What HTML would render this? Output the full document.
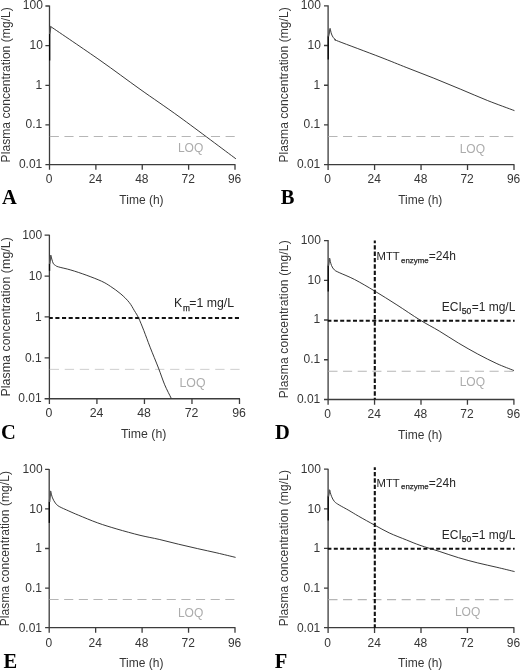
<!DOCTYPE html>
<html><head><meta charset="utf-8"><title>Plasma concentration-time profiles</title>
<style>
html,body{margin:0;padding:0;background:#fff;}
svg{display:block;}
text{font-family:"Liberation Sans",Arial,sans-serif;fill:#363636;}
text.ltr{font-family:"Liberation Serif","Times New Roman",serif;font-weight:bold;font-size:20.5px;fill:#000;}
text.loq{fill:#acacac;}
text.blk{fill:#262626;}
.sub{stroke:#262626;stroke-width:0.25px;}
</style></head><body>
<svg width="520" height="670" viewBox="0 0 520 670">
<rect width="520" height="670" fill="#fff"/>
<g style="font-size:12.00px">
<path d="M49.50 5.50V169.80M45.40 164.60H235.50M45.40 6.00H49.50M45.40 45.65H49.50M45.40 85.30H49.50M45.40 124.95H49.50M95.88 164.60V169.80M142.25 164.60V169.80M188.62 164.60V169.80M235.00 164.60V169.80" stroke="#3c3c3c" stroke-width="1.3" fill="none"/>
<text x="42.90" y="9.40" text-anchor="end">100</text>
<text x="42.90" y="49.05" text-anchor="end">10</text>
<text x="42.30" y="88.70" text-anchor="end">1</text>
<text x="42.30" y="128.35" text-anchor="end">0.1</text>
<text x="42.30" y="168.00" text-anchor="end">0.01</text>
<text x="49.10" y="182.90" text-anchor="middle">0</text>
<text x="95.47" y="182.90" text-anchor="middle">24</text>
<text x="141.85" y="182.90" text-anchor="middle">48</text>
<text x="188.22" y="182.90" text-anchor="middle">72</text>
<text x="234.60" y="182.90" text-anchor="middle">96</text>
<text transform="translate(9.60 162.40) rotate(-90)" textLength="155.2" lengthAdjust="spacing">Plasma concentration (mg/L)</text>
<text x="141.45" y="203.60" text-anchor="middle">Time (h)</text>
<text x="2.00" y="203.80" class="ltr">A</text>
<path d="M49.80 136.49H235.40" stroke="#b6b6b6" stroke-width="1.05" stroke-dasharray="9.1 5.55" fill="none"/>
<text x="177.90" y="151.90" class="loq">LOQ</text>
<path d="M50.60 26.50C58.83 32.13 85.10 49.85 100.00 60.30C114.90 70.75 126.67 79.70 140.00 89.20C153.33 98.70 164.07 105.73 180.00 117.30C195.93 128.87 226.33 151.72 235.60 158.60" stroke="#222" stroke-width="0.9" fill="none" stroke-linejoin="round" stroke-linecap="round"/>
<path d="M49.65 60.50V34.00" stroke="#0a0a0a" stroke-width="1.35" fill="none"/>
<path d="M49.80 34.00L50.60 26.50" stroke="#555" stroke-width="1.6" fill="none"/>
</g>
<g style="font-size:12.00px">
<path d="M328.10 5.30V169.90M324.00 164.70H514.50M324.00 5.80H328.10M324.00 45.52H328.10M324.00 85.25H328.10M324.00 124.97H328.10M374.58 164.70V169.90M421.05 164.70V169.90M467.52 164.70V169.90M514.00 164.70V169.90" stroke="#3c3c3c" stroke-width="1.3" fill="none"/>
<text x="320.90" y="9.20" text-anchor="end">100</text>
<text x="320.90" y="48.92" text-anchor="end">10</text>
<text x="320.30" y="88.65" text-anchor="end">1</text>
<text x="320.30" y="128.37" text-anchor="end">0.1</text>
<text x="320.30" y="168.10" text-anchor="end">0.01</text>
<text x="327.70" y="183.00" text-anchor="middle">0</text>
<text x="374.18" y="183.00" text-anchor="middle">24</text>
<text x="420.65" y="183.00" text-anchor="middle">48</text>
<text x="467.12" y="183.00" text-anchor="middle">72</text>
<text x="513.60" y="183.00" text-anchor="middle">96</text>
<text transform="translate(287.60 162.50) rotate(-90)" textLength="155.2" lengthAdjust="spacing">Plasma concentration (mg/L)</text>
<text x="420.25" y="203.70" text-anchor="middle">Time (h)</text>
<text x="280.80" y="203.80" class="ltr">B</text>
<path d="M328.40 136.53H514.40" stroke="#b6b6b6" stroke-width="1.05" stroke-dasharray="9.1 5.55" fill="none"/>
<text x="459.70" y="153.00" class="loq">LOQ</text>
<path d="M330.15 28.60C330.38 29.50 330.98 32.52 331.50 34.00C332.02 35.48 332.62 36.53 333.30 37.50C333.98 38.47 334.73 39.17 335.60 39.80C336.47 40.43 331.10 38.43 338.50 41.30C345.90 44.17 368.60 52.60 380.00 57.00C391.40 61.40 397.92 64.17 406.90 67.70C415.88 71.23 424.87 74.60 433.85 78.20C442.83 81.80 451.83 85.57 460.80 89.30C469.77 93.03 478.82 97.07 487.70 100.60C496.58 104.13 509.70 108.85 514.10 110.50" stroke="#222" stroke-width="0.9" fill="none" stroke-linejoin="round" stroke-linecap="round"/>
<path d="M328.25 59.40V36.30" stroke="#0a0a0a" stroke-width="1.35" fill="none"/>
<path d="M328.40 36.30L330.15 28.60" stroke="#555" stroke-width="1.6" fill="none"/>
</g>
<g style="font-size:12.32px">
<path d="M49.40 234.65V403.95M44.60 398.75H240.00M44.60 235.15H49.40M44.60 276.05H49.40M44.60 316.95H49.40M44.60 357.85H49.40M96.92 398.75V403.95M144.45 398.75V403.95M191.97 398.75V403.95M239.50 398.75V403.95" stroke="#3c3c3c" stroke-width="1.3" fill="none"/>
<text x="42.20" y="238.85" text-anchor="end" style="font-size:12px">100</text>
<text x="42.20" y="279.75" text-anchor="end" style="font-size:12px">10</text>
<text x="41.60" y="320.65" text-anchor="end" style="font-size:12px">1</text>
<text x="41.60" y="361.55" text-anchor="end" style="font-size:12px">0.1</text>
<text x="41.60" y="402.45" text-anchor="end" style="font-size:12px">0.01</text>
<text x="49.00" y="417.05" text-anchor="middle">0</text>
<text x="96.52" y="417.05" text-anchor="middle">24</text>
<text x="144.05" y="417.05" text-anchor="middle">48</text>
<text x="191.57" y="417.05" text-anchor="middle">72</text>
<text x="239.10" y="417.05" text-anchor="middle">96</text>
<text transform="translate(9.50 396.55) rotate(-90)" textLength="159.4" lengthAdjust="spacing">Plasma concentration (mg/L)</text>
<text x="143.65" y="438.35" text-anchor="middle">Time (h)</text>
<text x="1.00" y="439.00" class="ltr">C</text>
<path d="M49.70 369.36H239.90" stroke="#c8c8c8" stroke-width="0.9" stroke-dasharray="9.3 5.75" fill="none"/>
<text x="179.50" y="386.60" class="loq">LOQ</text>
<path d="M49.10 317.95H240.20" stroke="#111" stroke-width="2" stroke-dasharray="4.1 2.55" stroke-dashoffset="0.4" fill="none"/>
<text class="blk"><tspan x="173.90" y="307.15" style="font-size:12.32px">K</tspan><tspan class="sub" x="182.90" y="311.05" style="font-size:8.3px">m</tspan><tspan x="189.30" y="307.15" style="font-size:12.32px">=1 mg/L</tspan></text>
<path d="M50.80 255.40C51.18 256.68 52.33 261.43 53.10 263.10C53.87 264.77 54.50 264.77 55.40 265.40C56.30 266.03 55.93 266.13 58.50 266.90C61.07 267.67 66.19 268.63 70.80 270.00C75.41 271.37 81.03 273.23 86.15 275.10C91.27 276.97 97.46 279.33 101.50 281.20C105.54 283.07 107.17 284.17 110.40 286.30C113.63 288.43 117.77 291.32 120.90 294.00C124.03 296.68 126.95 299.62 129.20 302.40C131.45 305.18 132.83 308.10 134.40 310.70C135.97 313.30 137.03 314.70 138.60 318.00C140.17 321.30 141.88 325.63 143.80 330.50C145.72 335.37 147.65 340.93 150.10 347.20C152.55 353.47 156.07 361.83 158.50 368.10C160.93 374.37 162.62 379.85 164.70 384.80C166.78 389.75 169.95 395.63 171.00 397.80" stroke="#222" stroke-width="0.9" fill="none" stroke-linejoin="round" stroke-linecap="round"/>
<path d="M49.55 270.80V263.80" stroke="#0a0a0a" stroke-width="1.35" fill="none"/>
<path d="M49.70 263.80L50.80 255.40" stroke="#555" stroke-width="1.6" fill="none"/>
</g>
<g style="font-size:12.00px">
<path d="M328.10 240.05V404.70M324.00 399.50H514.40M324.00 240.55H328.10M324.00 280.29H328.10M324.00 320.02H328.10M324.00 359.76H328.10M374.55 399.50V404.70M421.00 399.50V404.70M467.45 399.50V404.70M513.90 399.50V404.70" stroke="#3c3c3c" stroke-width="1.3" fill="none"/>
<text x="320.90" y="243.95" text-anchor="end">100</text>
<text x="320.90" y="283.69" text-anchor="end">10</text>
<text x="320.30" y="323.42" text-anchor="end">1</text>
<text x="320.30" y="363.16" text-anchor="end">0.1</text>
<text x="320.30" y="402.90" text-anchor="end">0.01</text>
<text x="327.70" y="417.80" text-anchor="middle">0</text>
<text x="374.15" y="417.80" text-anchor="middle">24</text>
<text x="420.60" y="417.80" text-anchor="middle">48</text>
<text x="467.05" y="417.80" text-anchor="middle">72</text>
<text x="513.50" y="417.80" text-anchor="middle">96</text>
<text transform="translate(287.60 398.30) rotate(-90)" textLength="158.0" lengthAdjust="spacing">Plasma concentration (mg/L)</text>
<text x="420.20" y="438.50" text-anchor="middle">Time (h)</text>
<text x="275.00" y="439.00" class="ltr">D</text>
<path d="M328.40 371.32H514.30" stroke="#b6b6b6" stroke-width="1.05" stroke-dasharray="9.1 5.55" fill="none"/>
<text x="459.70" y="385.60" class="loq">LOQ</text>
<path d="M327.80 320.72H514.60" stroke="#111" stroke-width="2" stroke-dasharray="4 2.4" stroke-dashoffset="0.4" fill="none"/>
<text class="blk"><tspan x="441.80" y="310.52" style="font-size:12px">ECI</tspan><tspan class="sub" x="461.70" y="314.32" style="font-size:8.6px">50</tspan><tspan x="471.70" y="310.52" style="font-size:12px">=1 mg/L</tspan></text>
<path d="M374.80 240.60V399.50" stroke="#111" stroke-width="2.1" stroke-dasharray="4.35 2" stroke-dashoffset="1.7" fill="none"/>
<text class="blk"><tspan x="376.55" y="260.30" style="font-size:11.3px">MTT</tspan><tspan class="sub" x="401.10" y="262.70" style="font-size:7.85px">enzyme</tspan><tspan x="428.80" y="260.30" style="font-size:12px">=24h</tspan></text>
<path d="M329.60 258.40C329.92 259.58 330.70 263.58 331.50 265.50C332.30 267.42 333.12 268.72 334.40 269.90C335.68 271.08 335.83 271.00 339.20 272.60C342.57 274.20 348.67 276.42 354.60 279.50C360.53 282.58 367.75 286.87 374.80 291.10C381.85 295.33 389.37 300.08 396.90 304.90C404.43 309.72 412.95 315.65 420.00 320.00C427.05 324.35 432.78 327.15 439.20 331.00C445.62 334.85 452.08 339.27 458.50 343.10C464.92 346.93 471.30 350.57 477.70 354.00C484.10 357.43 490.92 360.92 496.90 363.65C502.88 366.38 510.82 369.27 513.60 370.40" stroke="#222" stroke-width="0.9" fill="none" stroke-linejoin="round" stroke-linecap="round"/>
<path d="M328.25 291.50V265.50" stroke="#0a0a0a" stroke-width="1.35" fill="none"/>
<path d="M328.40 265.50L329.60 258.40" stroke="#555" stroke-width="1.6" fill="none"/>
</g>
<g style="font-size:12.00px">
<path d="M49.20 468.90V632.80M45.10 627.60H235.50M45.10 469.40H49.20M45.10 508.95H49.20M45.10 548.50H49.20M45.10 588.05H49.20M95.65 627.60V632.80M142.10 627.60V632.80M188.55 627.60V632.80M235.00 627.60V632.80" stroke="#3c3c3c" stroke-width="1.3" fill="none"/>
<text x="42.60" y="473.30" text-anchor="end">100</text>
<text x="42.60" y="512.85" text-anchor="end">10</text>
<text x="42.00" y="552.40" text-anchor="end">1</text>
<text x="42.00" y="591.95" text-anchor="end">0.1</text>
<text x="42.00" y="631.50" text-anchor="end">0.01</text>
<text x="48.80" y="646.80" text-anchor="middle">0</text>
<text x="95.25" y="646.80" text-anchor="middle">24</text>
<text x="141.70" y="646.80" text-anchor="middle">48</text>
<text x="188.15" y="646.80" text-anchor="middle">72</text>
<text x="234.60" y="646.80" text-anchor="middle">96</text>
<text transform="translate(9.30 626.20) rotate(-90)" textLength="155.2" lengthAdjust="spacing">Plasma concentration (mg/L)</text>
<text x="141.30" y="667.20" text-anchor="middle">Time (h)</text>
<text x="3.40" y="668.30" class="ltr">E</text>
<path d="M49.50 599.56H235.40" stroke="#b6b6b6" stroke-width="1.05" stroke-dasharray="9.1 5.55" fill="none"/>
<text x="177.90" y="616.55" class="loq">LOQ</text>
<path d="M50.60 491.20C50.92 492.32 51.70 495.92 52.50 497.90C53.30 499.88 54.28 501.67 55.40 503.10C56.52 504.53 56.96 505.18 59.20 506.50C61.44 507.82 65.63 509.55 68.85 511.00C72.07 512.45 73.69 513.22 78.50 515.20C83.31 517.18 91.30 520.60 97.70 522.90C104.10 525.20 109.85 526.93 116.90 529.00C123.95 531.07 132.95 533.57 140.00 535.30C147.05 537.03 152.78 537.92 159.20 539.40C165.62 540.88 172.08 542.66 178.50 544.20C184.92 545.74 191.30 547.20 197.70 548.65C204.10 550.10 210.65 551.46 216.90 552.90C223.15 554.34 232.15 556.57 235.20 557.30" stroke="#222" stroke-width="0.9" fill="none" stroke-linejoin="round" stroke-linecap="round"/>
<path d="M49.35 522.90V502.00" stroke="#0a0a0a" stroke-width="1.35" fill="none"/>
<path d="M49.50 502.00L50.60 491.20" stroke="#555" stroke-width="1.6" fill="none"/>
</g>
<g style="font-size:12.00px">
<path d="M328.10 468.70V632.90M324.00 627.70H514.40M324.00 469.20H328.10M324.00 508.82H328.10M324.00 548.45H328.10M324.00 588.08H328.10M374.55 627.70V632.90M421.00 627.70V632.90M467.45 627.70V632.90M513.90 627.70V632.90" stroke="#3c3c3c" stroke-width="1.3" fill="none"/>
<text x="320.90" y="473.10" text-anchor="end">100</text>
<text x="320.90" y="512.73" text-anchor="end">10</text>
<text x="320.30" y="552.35" text-anchor="end">1</text>
<text x="320.30" y="591.98" text-anchor="end">0.1</text>
<text x="320.30" y="631.60" text-anchor="end">0.01</text>
<text x="327.70" y="646.60" text-anchor="middle">0</text>
<text x="374.15" y="646.60" text-anchor="middle">24</text>
<text x="420.60" y="646.60" text-anchor="middle">48</text>
<text x="467.05" y="646.60" text-anchor="middle">72</text>
<text x="513.50" y="646.60" text-anchor="middle">96</text>
<text transform="translate(287.60 626.30) rotate(-90)" textLength="156.3" lengthAdjust="spacing">Plasma concentration (mg/L)</text>
<text x="420.20" y="667.20" text-anchor="middle">Time (h)</text>
<text x="274.70" y="668.20" class="ltr">F</text>
<path d="M328.40 599.60H514.30" stroke="#b6b6b6" stroke-width="1.05" stroke-dasharray="9.1 5.55" fill="none"/>
<text x="454.90" y="616.20" class="loq">LOQ</text>
<path d="M327.80 548.75H514.60" stroke="#111" stroke-width="2" stroke-dasharray="4 2.4" stroke-dashoffset="0.4" fill="none"/>
<text class="blk"><tspan x="441.80" y="538.55" style="font-size:12px">ECI</tspan><tspan class="sub" x="461.70" y="542.35" style="font-size:8.6px">50</tspan><tspan x="471.70" y="538.55" style="font-size:12px">=1 mg/L</tspan></text>
<path d="M374.80 467.30V627.70" stroke="#111" stroke-width="2.1" stroke-dasharray="4.35 2" stroke-dashoffset="1.7" fill="none"/>
<text class="blk"><tspan x="376.55" y="486.70" style="font-size:11.3px">MTT</tspan><tspan class="sub" x="401.10" y="489.10" style="font-size:7.85px">enzyme</tspan><tspan x="428.80" y="486.70" style="font-size:12px">=24h</tspan></text>
<path d="M329.60 490.00C329.92 491.05 330.70 494.38 331.50 496.30C332.30 498.22 333.12 500.05 334.40 501.50C335.68 502.95 336.79 503.52 339.20 505.00C341.61 506.48 345.63 508.54 348.85 510.40C352.07 512.26 354.18 513.68 358.50 516.15C362.82 518.62 369.68 522.41 374.80 525.20C379.92 527.99 383.92 530.43 389.20 532.90C394.48 535.37 401.37 537.93 406.50 540.00C411.63 542.07 414.55 543.41 420.00 545.30C425.45 547.19 432.78 549.28 439.20 551.35C445.62 553.42 452.08 555.78 458.50 557.70C464.92 559.62 471.30 561.30 477.70 562.90C484.10 564.50 490.82 565.87 496.90 567.30C502.98 568.73 511.32 570.80 514.20 571.50" stroke="#222" stroke-width="0.9" fill="none" stroke-linejoin="round" stroke-linecap="round"/>
<path d="M328.25 520.40V496.30" stroke="#0a0a0a" stroke-width="1.35" fill="none"/>
<path d="M328.40 496.30L329.60 490.00" stroke="#555" stroke-width="1.6" fill="none"/>
</g>
</svg>
</body></html>
